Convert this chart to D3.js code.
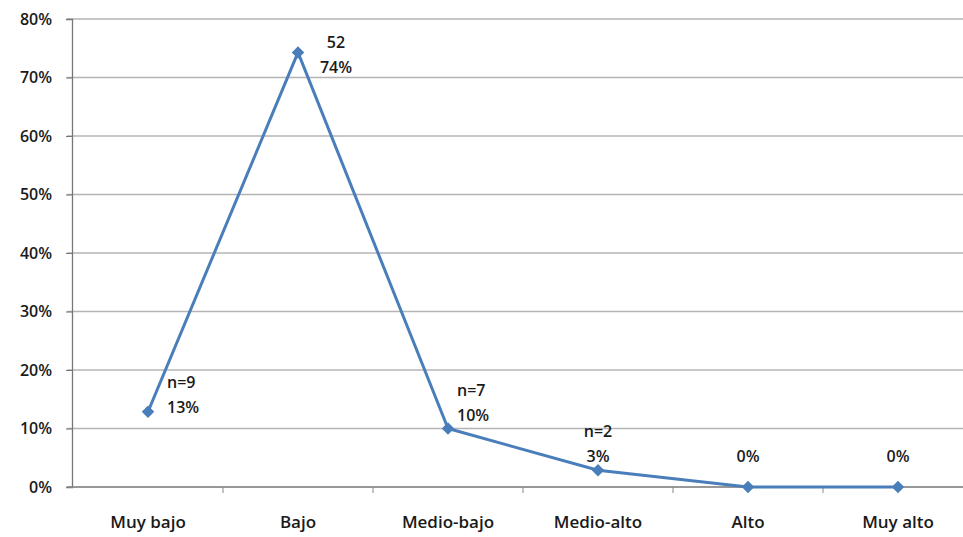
<!DOCTYPE html>
<html>
<head>
<meta charset="utf-8">
<script src="https://cdn.jsdelivr.net/npm/d3@7"></script>
<style>
  html, body { margin: 0; padding: 0; background: #fff; }
  svg { display: block; }
  text { font-family: "Open Sans", Lato, "Liberation Sans", sans-serif; fill: #1a1a1a; font-weight: 600; }
</style>
</head>
<body>
<svg id="chart" width="963" height="537"></svg>
<script>
// Nivel categories and share of respondents (n = 70)
const categories = ["Muy bajo", "Bajo", "Medio-bajo", "Medio-alto", "Alto", "Muy alto"];
const percentages = [12.86, 74.29, 10.0, 2.86, 0, 0];
const countLabels = ["n=9", "52", "n=7", "n=2", "", ""];
const yTicks = [0, 10, 20, 30, 40, 50, 60, 70, 80];

const svg = d3.select("#chart");
const plotLeft = 73, plotRight = 973, plotTop = 19, plotBottom = 487;
const fontFamily = "'Open Sans', Lato, sans-serif";

const x = d3.scaleBand().domain(categories).range([plotLeft, plotRight]);
const y = d3.scaleLinear().domain([0, 80]).range([plotBottom, plotTop]);

// Horizontal gridlines
svg.append("g")
  .selectAll("line")
  .data(yTicks)
  .join("line")
  .attr("x1", plotLeft - 6).attr("x2", 963)
  .attr("y1", d => y(d)).attr("y2", d => y(d))
  .attr("stroke", "#b4b4b4").attr("stroke-width", 1.5);

// Y axis
const yAxis = svg.append("g")
  .attr("transform", `translate(${plotLeft - 1},0)`)
  .call(d3.axisLeft(y).tickValues(yTicks).tickFormat(d => d + "%").tickSize(6).tickPadding(14));
yAxis.select(".domain").attr("stroke", "#777").attr("stroke-width", 1.3);
yAxis.selectAll(".tick line").attr("stroke", "#777");
yAxis.selectAll(".tick text").attr("font-size", 16).attr("fill", "#1a1a1a")
  .style("font-family", fontFamily).style("font-weight", 600);

// X axis with ticks between categories
const xAxis = svg.append("g").attr("transform", `translate(0,${plotBottom})`);
xAxis.append("line").attr("x1", plotLeft - 6).attr("x2", 963).attr("y1", 0).attr("y2", 0)
  .attr("stroke", "#888").attr("stroke-width", 1.5);
xAxis.selectAll("line.sep")
  .data(categories.slice(1))
  .join("line").attr("class", "sep")
  .attr("x1", d => x(d)).attr("x2", d => x(d))
  .attr("y1", 0).attr("y2", 6)
  .attr("stroke", "#888");
xAxis.selectAll("text")
  .data(categories)
  .join("text")
  .attr("x", d => x(d) + x.bandwidth() / 2)
  .attr("y", 41)
  .attr("text-anchor", "middle")
  .attr("font-size", 17)
  .text(d => d);

const pts = categories.map((c, i) => ({ c, v: percentages[i], n: countLabels[i], i }));
const px = d => x(d.c) + x.bandwidth() / 2;

// Series line
svg.append("path")
  .datum(pts)
  .attr("d", d3.line().x(px).y(d => y(d.v)))
  .attr("fill", "none")
  .attr("stroke", "#4a7ebb")
  .attr("stroke-width", 3)
  .attr("stroke-linejoin", "round");

// Diamond markers
svg.append("g")
  .selectAll("path")
  .data(pts)
  .join("path")
  .attr("transform", d => `translate(${px(d)},${y(d.v)})`)
  .attr("d", d3.symbol(d3.symbolDiamond2, 100))
  .attr("fill", "#4a7ebb");

// Data labels: [dx, dy of first line, anchor]
const labelPlacement = [
  [19, -24, "start"],
  [38, -4, "middle"],
  [9, -33, "start"],
  [0, -33, "middle"],
  [0, -25, "middle"],
  [0, -25, "middle"]
];
const labels = svg.append("g").selectAll("text")
  .data(pts)
  .join("text")
  .attr("font-size", 16)
  .attr("text-anchor", d => labelPlacement[d.i][2])
  .attr("transform", d => `translate(${px(d) + labelPlacement[d.i][0]},${y(d.v) + labelPlacement[d.i][1]})`);
labels.each(function(d) {
  const t = d3.select(this);
  const lines = d.n ? [d.n, Math.round(d.v) + "%"] : [Math.round(d.v) + "%"];
  lines.forEach((s, k) => {
    t.append("tspan").attr("x", 0).attr("y", k * 25).text(s);
  });
});
</script>
</body>
</html>
